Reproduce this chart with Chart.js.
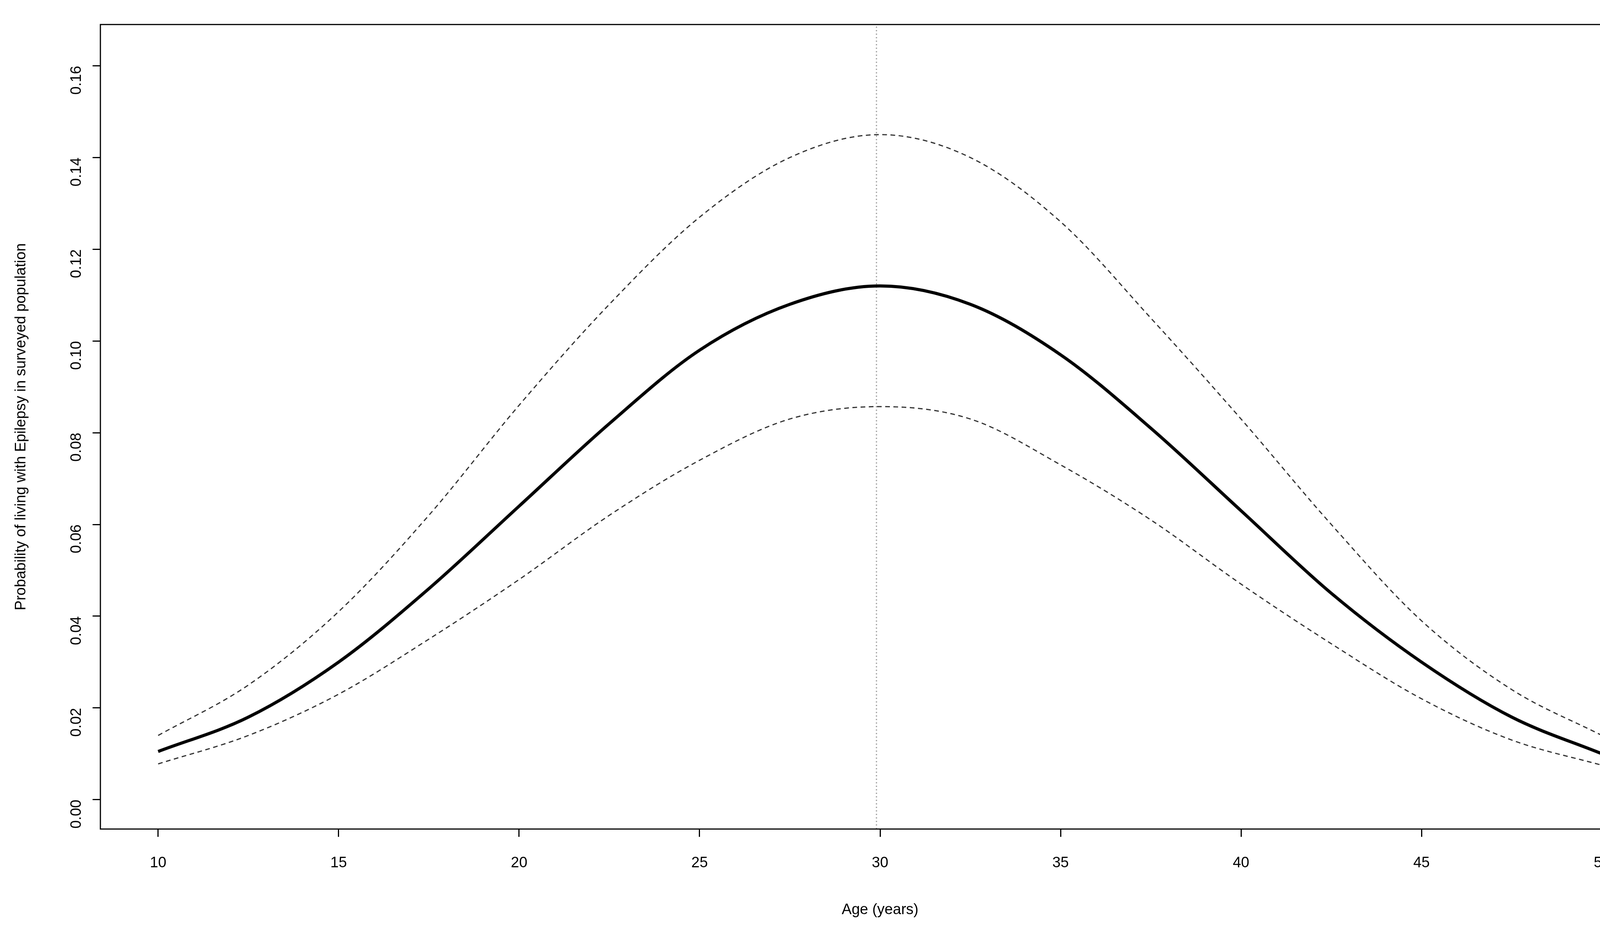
<!DOCTYPE html>
<html><head><meta charset="utf-8">
<script src="https://cdn.jsdelivr.net/npm/chart.js@4"></script>
<style>html,body{margin:0;padding:0;background:#fff;overflow:hidden}#c{display:block}</style>
</head><body>
<canvas id="c" width="4290" height="2379" style="width:4290px;height:2379px"></canvas>
<script>
const ages = [10,12.5,15,17.5,20,22.5,25,27.5,30,32.5,35,37.5,40,42.5,45,47.5,50];
const estimate = [0.0105,0.018,0.030,0.046,0.064,0.082,0.098,0.108,0.112,0.108,0.097,0.081,0.063,0.045,0.030,0.018,0.010];
const upper = [0.014,0.025,0.041,0.062,0.086,0.108,0.127,0.140,0.145,0.140,0.126,0.105,0.083,0.060,0.039,0.024,0.014];
const lower = [0.0078,0.014,0.023,0.035,0.048,0.062,0.074,0.083,0.0857,0.083,0.073,0.061,0.047,0.034,0.022,0.013,0.0075];
const peakAge = 29.9;
const xTicks = [10,15,20,25,30,35,40,45,50];
const yTicks = [0,0.02,0.04,0.06,0.08,0.10,0.12,0.14,0.16];
const yLabels = ['0.00','0.02','0.04','0.06','0.08','0.10','0.12','0.14','0.16'];

const pts = a => ages.map((x,i)=>({x, y:a[i]}));
const FONT = "'Liberation Sans', Arial, sans-serif";
const frame = {
  id:'frame',
  afterDraw(ch){
    const {ctx, chartArea:a} = ch;
    ctx.save();
    ctx.strokeStyle='#000'; ctx.lineWidth=3;
    ctx.strokeRect(a.left,a.top,a.right-a.left,a.bottom-a.top);
    ctx.fillStyle='#000'; ctx.font="38px "+FONT; ctx.textAlign='center'; ctx.textBaseline='middle';
    ctx.fillText('Age (years)', (a.left+a.right)/2, 2331);
    ctx.translate(55,(a.top+a.bottom)/2); ctx.rotate(-Math.PI/2);
    ctx.fillText('Probability of living with Epilepsy in surveyed population',0,0);
    ctx.restore();
  }
};
new Chart(document.getElementById('c'),{
  type:'line',
  data:{datasets:[
    {data:pts(estimate),borderColor:'#000',borderWidth:8,pointRadius:0,cubicInterpolationMode:'monotone'},
    {data:pts(upper),borderColor:'#333',borderWidth:3,borderDash:[12,9],pointRadius:0,cubicInterpolationMode:'monotone'},
    {data:pts(lower),borderColor:'#333',borderWidth:3,borderDash:[12,9],pointRadius:0,cubicInterpolationMode:'monotone'},
    {data:[{x:peakAge,y:-0.0064},{x:peakAge,y:0.169}],borderColor:'#999',borderWidth:3,borderDash:[3,6],pointRadius:0}
  ]},
  options:{
    responsive:false,maintainAspectRatio:false,animation:false,
    devicePixelRatio:1,
    layout:{padding:{top:22,right:41,left:0,bottom:0}},
    plugins:{legend:{display:false},tooltip:{enabled:false}},
    scales:{
      x:{type:'linear',min:8.4,max:51.6,
        afterBuildTicks(s){s.ticks=xTicks.map(v=>({value:v}));},
        afterFit(s){s.height=256;},
        border:{display:false},
        grid:{drawOnChartArea:false,tickLength:20,color:'#000',tickWidth:3},
        ticks:{color:'#000',font:{size:38,family:FONT},padding:45,maxRotation:0,callback:v=>String(v)}},
      y:{type:'linear',min:-0.0064,max:0.169,
        afterBuildTicks(s){s.ticks=yTicks.map(v=>({value:v}));},
        afterFit(s){s.width=257;},
        border:{display:false},
        grid:{drawOnChartArea:false,tickLength:20,color:'#000',tickWidth:3},
        ticks:{color:'#000',font:{size:38,family:FONT},padding:40,minRotation:90,maxRotation:90,
          callback:(v)=>{const i=yTicks.findIndex(t=>Math.abs(t-v)<1e-9);return i>=0?yLabels[i]:'';}}}
    }
  },
  plugins:[frame]
});
</script>
</body></html>
